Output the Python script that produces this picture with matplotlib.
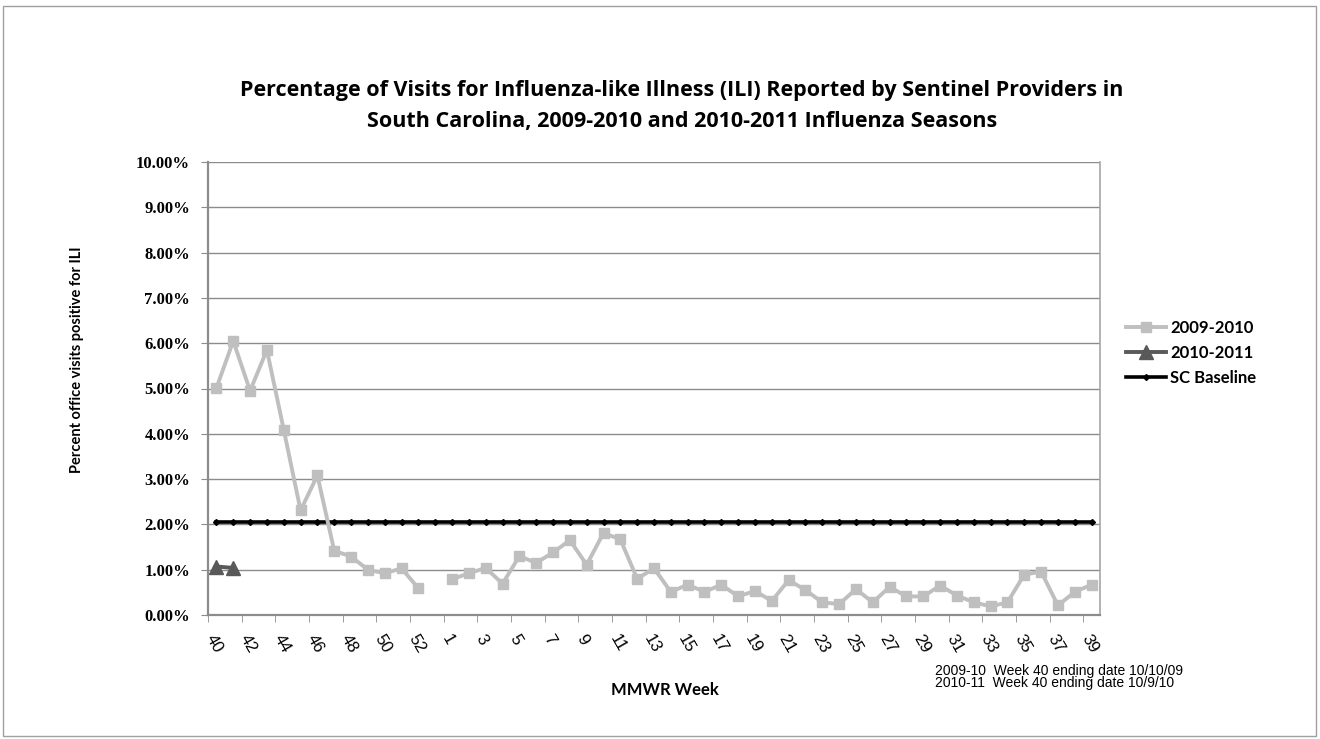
import numpy as np
import matplotlib.pyplot as plt
from matplotlib.patches import Rectangle
from matplotlib.ticker import FixedLocator, FuncFormatter

# MMWR weeks of the season (2009 had a week 53)
weeks = list(range(40, 54)) + list(range(1, 40))

# % of visits for ILI, 2009-2010 season (no report for week 53)
ili_0910 = [5.01, 6.05, 4.95, 5.85, 4.09, 2.31, 3.08, 1.42, 1.29, 1.00,
            0.92, 1.03, 0.59, None,
            0.79, 0.92, 1.04, 0.69, 1.30, 1.15, 1.38, 1.65, 1.11, 1.81,
            1.67, 0.80, 1.03, 0.51, 0.67, 0.51, 0.67, 0.41, 0.53, 0.31,
            0.77, 0.55, 0.28, 0.24, 0.57, 0.28, 0.62, 0.41, 0.41, 0.65,
            0.43, 0.28, 0.19, 0.28, 0.89, 0.96, 0.21, 0.51, 0.67]

# 2010-2011 season so far
ili_1011 = [1.07, 1.04]

sc_baseline = 2.05

x = np.arange(len(weeks))
y0910 = np.array([np.nan if v is None else v for v in ili_0910])
base = np.full(len(weeks), sc_baseline)

fig = plt.figure(figsize=(13.2, 7.39), dpi=100)
W, H = 1320, 739
ax = fig.add_axes([208 / W, (H - 615) / H, (1100 - 208) / W, (615 - 162) / H])

ax.plot(x, y0910, color='#BFBFBF', lw=2.8, marker='s', ms=7.5,
        mec='#BFBFBF', mfc='#BFBFBF', label='2009-2010', zorder=3)
ax.plot(x[:len(ili_1011)], ili_1011, color='#595959', lw=2.8, marker='^',
        ms=9.5, label='2010-2011', zorder=4)
ax.plot(x, base, color='black', lw=2.6, marker='D', ms=3,
        label='SC Baseline', zorder=2)

ax.set_xlim(-0.5, len(weeks) - 0.5)
ax.set_ylim(0, 10)

# y axis: gridlines every 1%
ax.set_yticks(np.arange(0, 11, 1))
ax.yaxis.set_major_formatter(FuncFormatter(lambda v, p: f'{v:.2f}%'))
ax.grid(axis='y', color='#8C8C8C', lw=1)
ax.tick_params(axis='y', length=5, color='#8C8C8C', pad=8)
for lab in ax.get_yticklabels():
    lab.set_fontfamily('Liberation Serif')
    lab.set_fontweight('bold')
    lab.set_fontsize(12)

# x axis: labels every other week, tick marks between categories
ax.set_xticks(x[::2])
ax.set_xticklabels([str(w) for w in weeks[::2]], rotation=-60,
                   ha='left', va='top', rotation_mode='anchor',
                   fontfamily='Liberation Sans', fontsize=12)
ax.xaxis.set_minor_locator(FixedLocator(np.arange(-0.5, len(weeks), 2)))
ax.tick_params(axis='x', which='major', length=0, pad=12)
ax.tick_params(axis='x', which='minor', length=5, color='#8C8C8C')

for side in ['left', 'bottom']:
    ax.spines[side].set_color('#8C8C8C')
    ax.spines[side].set_linewidth(1.6)
ax.spines['right'].set_color('#A6A6A6')
ax.spines['right'].set_linewidth(1.2)
ax.spines['top'].set_visible(False)

fig.text(77 / W, 1 - 360 / H, 'Percent office visits positive for ILI',
         fontfamily='Lato', fontweight='bold', fontsize=10.5,
         rotation=90, ha='center', va='center')
fig.text(665 / W, 1 - 690 / H, 'MMWR Week', fontfamily='Lato',
         fontweight='bold', fontsize=12, ha='center', va='center')

fig.text(682 / W, 1 - 106 / H,
         'Percentage of Visits for Influenza-like Illness (ILI) Reported by Sentinel Providers in\n'
         'South Carolina, 2009-2010 and 2010-2011 Influenza Seasons',
         fontfamily='Open Sans', fontweight='bold', fontsize=15.5,
         ha='center', va='center', linespacing=1.65)

leg = ax.legend(loc='center left', bbox_to_anchor=(1126 / W, 1 - 353 / H),
                bbox_transform=fig.transFigure, frameon=False,
                borderpad=0, borderaxespad=0,
                handlelength=2.4, handletextpad=0.25, labelspacing=0.55,
                prop={'family': 'Lato', 'weight': 'bold', 'size': 12})

fig.text(935 / W, 1 - 671 / H, '2009-10  Week 40 ending date 10/10/09',
         fontfamily='Liberation Sans', fontsize=10, va='center')
fig.text(935 / W, 1 - 683 / H, '2010-11  Week 40 ending date 10/9/10',
         fontfamily='Liberation Sans', fontsize=10, va='center')

# outer chart border
fig.patches.append(Rectangle((3 / W, 3 / H), 1 - 7 / W, 1 - 9 / H,
                             transform=fig.transFigure, fill=False,
                             ec='#A0A0A0', lw=1))

fig.savefig('out.png', dpi=100)
